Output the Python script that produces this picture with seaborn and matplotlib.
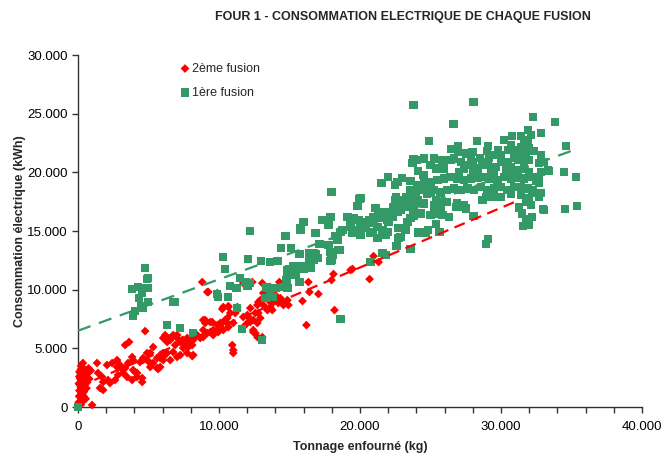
import numpy as np
import pandas as pd
import matplotlib
matplotlib.use("Agg")
import matplotlib.pyplot as plt
import seaborn as sns
from matplotlib.ticker import FuncFormatter, MultipleLocator

# ---------------- data ----------------
title = "FOUR 1 - CONSOMMATION ELECTRIQUE DE CHAQUE FUSION"
x_label = "Tonnage enfourné (kg)"
y_label = "Consommation électrique (kWh)"
series_names = ["2ème fusion", "1ère fusion"]

# 2ème fusion: (tonnage kg, consommation kWh)
fusion2_points = [
    (50, 400), (80, 900), (100, 1400), (120, 1900), (150, 2400), (180, 2900), (200, 3200), (220, 3500),
    (60, 2000), (90, 2600), (250, 600), (300, 1100), (350, 1700), (400, 2200), (450, 2700), (500, 3100),
    (280, 1500), (320, 2600), (350, 3750), (420, 1300), (480, 1900), (550, 2500), (600, 1600), (650, 2100),
    (700, 2900), (750, 3300), (150, 1000), (200, 1700), (250, 2800), (300, 3400), (100, 3000), (350, 500),
    (1000, 170), (800, 2400), (900, 3100), (550, 700), (200, 200), (400, 900),
    (3340, 5280), (3620, 5540), (5330, 5110), (1350, 3750), (2060, 3580), (2420, 3750), (2770, 4000),
    (2980, 3580), (3340, 3320), (3840, 4260), (3910, 4000), (4400, 3830), (4620, 4170), (4900, 4600),
    (5120, 3750), (5610, 4170), (5830, 4430), (6040, 4000), (5680, 3240),
    (1420, 2900), (1710, 2560), (1780, 2130), (2130, 2300), (1560, 1620), (1780, 1450), (2270, 2040),
    (2630, 2300), (2840, 2730), (3200, 2900), (3480, 2560), (3840, 2300), (4190, 2560), (4550, 2130), (4050, 2980),
    (4760, 6470), (6180, 6130), (6540, 5880), (7030, 6130), (7390, 5710), (7600, 5280), (7820, 5540),
    (8170, 5880), (8100, 4340), (8810, 10650), (9170, 9800), (9880, 9710),
    (8880, 6560), (9020, 7410), (9380, 7240), (9590, 6560), (10090, 6810), (10300, 7240), (10590, 7580),
    (10800, 8010), (11010, 7160), (11300, 8260), (11720, 7670), (12010, 7840), (12220, 8430), (12580, 8010),
    (12720, 8690), (12930, 9110), (13140, 9710), (10300, 8520), (10660, 8520), (10940, 5280), (11010, 4850),
    (11010, 4600), (11720, 10560), (11870, 10390), (12360, 10650), (13070, 10560), (12430, 6560),
    (12580, 6300), (13070, 5960),
    (2770, 3410), (3200, 3150), (3550, 3750), (3910, 3150), (4190, 2900), (4550, 2470), (4620, 4000),
    (4900, 4000), (5120, 3410), (5330, 3750), (5610, 3320), (6040, 4260), (6320, 4600), (6540, 4000),
    (6750, 4680), (7030, 4260), (7250, 4430), (7460, 5030), (7740, 4600), (7820, 5110), (5120, 4600),
    (9240, 9800), (10230, 8350), (10660, 8600), (11150, 8010), (11300, 8520), (12790, 8940), (13140, 8690),
    (13430, 8260), (13640, 8520), (13850, 8940), (14140, 9370), (14210, 8860), (12790, 8010), (12930, 7580),
    (12720, 7160), (12430, 7410), (12220, 7240), (12010, 7160), (11720, 6810), (12080, 7670), (12430, 6390),
    (12720, 5960), (8880, 7410), (9020, 7160), (9520, 7240), (9880, 6980), (10090, 7160), (10440, 7410),
    (10590, 7160), (10660, 6810), (10300, 6560), (9950, 6390), (9590, 6130), (9380, 6390), (9170, 6300),
    (8880, 5960), (8670, 5880), (8450, 6130), (8170, 5710), (8100, 5280), (7740, 5880), (7460, 5710),
    (7250, 5540), (7030, 5880), (6750, 6130), (6540, 5710), (6320, 5540), (6040, 5880), (6890, 5280),
    (8170, 4430), (6040, 4600), (5830, 4170), (5830, 3410),
    (14280, 10650), (14570, 10390), (16340, 10650), (16410, 9800), (17050, 9630), (15920, 9030),
    (18190, 8260), (16200, 6980), (17980, 10820), (18120, 11330), (19330, 11670), (20680, 10900),
    (20960, 12860), (21320, 12350), (13640, 10220), (13850, 9800), (14000, 9370), (14140, 9110),
    (14350, 9280), (14490, 8940), (14570, 8690), (14850, 9110), (14920, 8690), (13780, 8260), (13640, 8940),
    (19470, 11760),
]

# 1ère fusion: (tonnage kg, consommation kWh)
fusion1_points = [
    (0, 0),
    (4760, 11840), (4900, 10900), (3840, 10050), (4260, 10220), (4620, 10140), (4970, 10140), (4550, 9710),
    (4330, 9280), (4970, 8940), (4050, 8180), (4480, 8600), (4620, 8430), (3910, 7750), (6890, 8940),
    (10300, 12780), (10440, 11760), (12080, 12610), (13000, 12440), (12220, 14990), (11510, 10990),
    (11870, 10650), (12220, 10560), (12010, 10310), (10800, 10310), (11230, 10140), (9880, 9630),
    (10660, 9370), (11300, 8430), (13290, 9280), (13360, 10220), (4970, 10990), (4550, 8520), (6320, 6980),
    (7250, 6730), (8170, 6300), (11650, 6640), (13070, 5710), (9950, 9370), (13850, 10140), (6750, 8940),
    (14710, 14570), (15780, 15080), (16840, 14820), (18260, 14570), (18620, 14910), (19470, 14820),
    (20040, 14650), (20750, 14820), (21250, 14400), (21670, 14650), (21960, 14910), (22740, 14400),
    (24090, 14820), (24650, 14820), (14420, 13540), (15130, 13540), (17120, 13880), (17760, 13800),
    (17900, 13200), (18050, 12950), (18470, 13370), (16840, 13030), (16630, 13030), (16700, 12520),
    (16480, 12270), (15700, 13030), (14140, 12440), (13640, 12350), (17900, 12440), (15280, 12010),
    (15630, 11840), (15990, 11760), (16480, 11840), (14850, 11670), (15420, 11240), (15700, 10650),
    (14000, 10140), (14570, 10220), (14850, 10140), (20750, 12350), (21810, 12950), (22600, 13710),
    (23590, 13460), (18620, 7500),
    (17980, 18310), (19970, 17720), (19820, 17120), (21530, 19080), (22670, 19170), (23590, 19250),
    (23730, 20780), (23800, 21130), (24090, 20100), (23940, 18310), (15990, 15760), (15780, 15250),
    (17340, 15930), (17900, 16180), (17760, 15760), (16410, 13120), (18410, 14230), (18760, 15080),
    (19110, 16180), (19540, 16100), (19890, 15930), (20250, 15760), (20680, 15930), (20960, 16180),
    (21320, 16100), (21670, 16180), (21960, 15930), (22240, 16440), (19330, 15330), (19680, 15080),
    (20040, 14820), (20390, 15250), (20890, 14910), (21250, 15330), (21600, 15080), (21810, 14650),
    (21100, 16950), (21320, 16610), (21960, 16610), (22380, 17040), (22670, 17380), (22880, 16780),
    (23380, 17040), (23730, 17460), (24090, 17630), (22530, 17890), (23090, 17630), (22740, 15250),
    (23380, 15760), (23800, 16350),
    (23800, 25730), (28060, 25980), (26640, 24110), (32260, 24700), (33820, 24280), (24870, 22660),
    (28280, 22660), (26930, 22230), (26930, 21720), (29060, 22230), (30200, 22740), (30760, 23080),
    (31400, 23080), (31900, 23590), (32110, 23170), (32820, 23340), (34600, 22230), (27990, 21720),
    (27850, 21300), (29770, 21890), (29410, 21470), (29130, 21210), (30480, 21890), (30690, 22320),
    (30910, 21890), (31190, 21470), (31400, 22150), (31620, 22490), (31900, 22740), (31970, 22060),
    (31760, 21640), (31970, 21040), (31620, 20870), (31400, 21210), (31190, 21040), (30910, 21210),
    (32820, 21470), (33040, 20870), (32680, 20780), (32820, 20020), (32680, 19590), (33320, 20190),
    (34460, 20020), (35310, 19590), (32680, 19080), (32820, 18230), (32680, 17890), (32470, 18230),
    (33040, 16780), (34530, 16870), (35380, 17120), (31550, 15420), (29060, 14310), (28920, 13880),
    (28060, 16270), (25370, 15590), (24160, 14910), (24580, 14910), (25650, 14910),
    (24060, 21040), (24530, 21180), (25240, 21180), (25370, 20330), (25950, 20330), (26430, 21040),
    (26660, 21180), (27140, 20900), (27380, 20330), (27730, 20610), (27970, 20900), (28330, 20330),
    (28680, 20610), (29040, 20900), (29270, 20190), (29630, 20470), (29980, 20900), (30340, 20190),
    (30690, 20470), (31170, 20190), (31640, 20330), (31990, 20040), (32110, 19620), (31640, 19480),
    (31170, 19560), (30690, 19480), (30220, 19620), (29750, 19340), (29270, 19480), (28800, 19620),
    (28330, 19560), (27850, 19480), (27380, 19340), (26900, 19480), (26430, 19620), (25950, 19480),
    (25490, 19340), (25010, 19190), (24530, 19190), (24060, 18910), (23590, 18480), (24300, 18480),
    (24770, 18200), (25240, 18480), (25720, 18340), (26190, 18480), (26670, 18630), (27140, 18480),
    (27620, 18630), (28090, 18480), (28560, 18770), (29040, 18480), (29510, 18630), (29980, 18770),
    (30460, 18480), (30930, 18770), (31400, 18770), (31880, 18630), (32240, 18480), (32000, 17770),
    (31760, 17490), (32110, 17210), (27380, 17210), (27500, 16930), (26900, 17350), (26190, 17490),
    (25720, 17350), (25240, 17210), (24530, 17350), (24060, 17490), (23820, 17060), (24300, 16500),
    (25240, 16500), (25840, 16350), (23820, 16270), (28680, 17630), (28920, 17910), (29980, 17910),
    (29390, 17910), (30690, 18200), (31400, 18060),
    (31500, 16500), (31800, 16000), (32000, 15500), (31300, 17000), (32200, 16200), (31000, 19800),
    (31700, 21300), (32300, 21800), (30500, 20900), (30000, 21500), (29000, 21800), (28500, 21200),
    (27500, 21600), (26500, 22000), (25800, 21000), (25000, 20600), (24500, 19800), (23000, 19500),
    (22500, 18900), (22000, 19600), (23300, 17900), (27000, 20000), (28000, 19900), (29500, 19900),
    (30800, 19900), (32500, 19300),
    (21460, 16530), (22520, 17630), (22740, 17210), (23020, 17630), (23380, 17380), (23730, 17890),
    (24090, 18480), (24650, 18480), (25010, 18230), (25370, 17630), (25720, 18230),
    (19330, 15760), (20040, 15670), (20250, 15330), (20750, 15670), (21670, 14910), (22030, 15760),
    (22310, 16180), (22670, 16610), (22880, 14480), (23230, 15080), (23590, 16100), (24800, 15080),
    (25010, 16350), (25720, 16610), (26290, 16180), (26790, 17040), (27350, 17040), (32970, 16870),
    (33390, 20100), (20040, 17800),
    (17620, 15930), (17760, 15500), (18550, 13370), (17980, 12520), (16700, 13120), (16980, 12690),
    (16410, 12520), (16270, 11840), (16060, 12010), (15560, 12010), (14990, 11760), (14850, 11410),
    (14780, 10820), (13430, 10140), (13640, 9800), (13850, 9370), (21600, 13120),
]

# Linear trend lines: slope (kWh/kg), intercept (kWh), x range (kg)
trend2 = {"slope": 0.509, "intercept": 1710, "x_range": [0, 31300]}
trend1 = {"slope": 0.438, "intercept": 6500, "x_range": [0, 35400]}

x_ticks_major = [0, 10000, 20000, 30000, 40000]
y_ticks = [0, 5000, 10000, 15000, 20000, 25000, 30000]

red = "#FF0000"
green = "#339966"

# ---------------- build frames ----------------
df2 = pd.DataFrame(fusion2_points, columns=["x", "y"])
df2["serie"] = series_names[0]
df1 = pd.DataFrame(fusion1_points, columns=["x", "y"])
df1["serie"] = series_names[1]

sns.set_style("white")
plt.rcParams["font.family"] = ["Liberation Sans", "DejaVu Sans"]

fig = plt.figure(figsize=(6.71, 4.57), dpi=100)
ax = fig.add_axes([78 / 671, 50 / 457, 564 / 671, 352 / 457])

sns.scatterplot(data=df2, x="x", y="y", marker="D", color=red, s=20, edgecolor="none",
                linewidth=0, ax=ax, label=series_names[0], clip_on=False, zorder=3)
sns.scatterplot(data=df1, x="x", y="y", marker="s", color=green, s=36, edgecolor="none",
                linewidth=0, ax=ax, label=series_names[1], clip_on=False, zorder=4)

for tr, col, dash in ((trend2, red, (5, 3)), (trend1, green, (6, 4))):
    xs = np.array(tr["x_range"], dtype=float)
    ys = tr["slope"] * xs + tr["intercept"]
    ax.plot(xs, ys, color=col, lw=1.6, dashes=dash, zorder=5)

ax.set_xlim(0, 40000)
ax.set_ylim(0, 30000)
ax.set_xticks(x_ticks_major)
ax.xaxis.set_minor_locator(MultipleLocator(2000))
ax.set_yticks(y_ticks)
fmt = FuncFormatter(lambda v, p: "0" if v == 0 else f"{int(v):,}".replace(",", "."))
ax.xaxis.set_major_formatter(fmt)
ax.yaxis.set_major_formatter(fmt)
ax.tick_params(axis="both", which="both", direction="out", length=4, width=1, color="#333333",
               labelsize=9.5, labelcolor="black", bottom=True, left=True)
ax.tick_params(axis="x", which="minor", length=4)
ax.tick_params(axis="x", pad=6)

for s in ("top", "right"):
    ax.spines[s].set_visible(False)
for s in ("left", "bottom"):
    ax.spines[s].set_color("#333333")
    ax.spines[s].set_linewidth(1)

ax.set_xlabel(x_label, fontsize=9, fontweight="bold")
ax.set_ylabel(y_label, fontsize=9, fontweight="bold")
ax.xaxis.set_label_coords(0.5, -0.097)
ax.yaxis.set_label_coords(-0.093, 0.5)

fig.text(403 / 671, 1 - 17 / 457, title, ha="center", va="center",
         fontsize=9, fontweight="bold")

leg = ax.legend(loc="upper left", bbox_to_anchor=(0.172, 0.992), frameon=False,
                prop={"size": 9},
                handlelength=0.8, handletextpad=0.15, labelspacing=0.95, borderaxespad=0)

fig.savefig("out.png", dpi=100)
